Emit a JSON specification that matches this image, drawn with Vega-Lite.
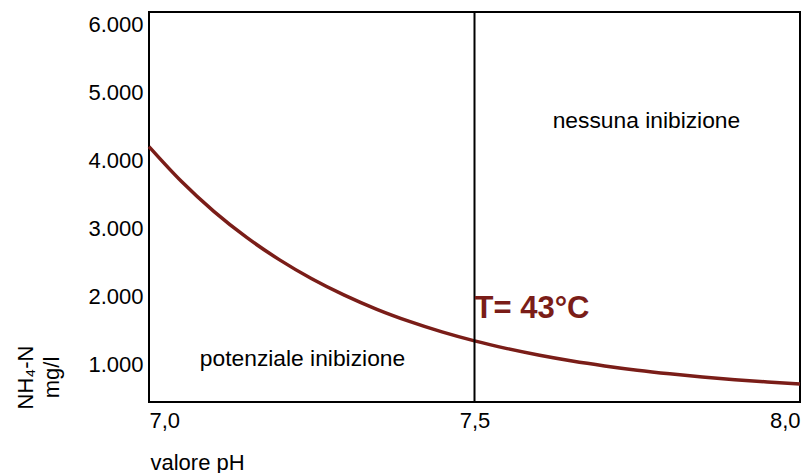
{
  "$schema": "https://vega.github.io/schema/vega-lite/v6.json",
  "width": 651,
  "height": 390,
  "autosize": "none",
  "padding": {"left": 149, "top": 12, "right": 1, "bottom": 71},
  "background": "white",
  "config": {
    "view": {"stroke": "black", "strokeWidth": 2},
    "font": "Liberation Sans",
    "axis": {"grid": false, "domain": false, "ticks": false, "labelFont": "Liberation Sans", "titleFont": "Liberation Sans", "labelColor": "black", "titleColor": "black", "labelFontSize": 22, "titleFontSize": 22, "titleFontWeight": "normal"}
  },
  "datasets": {
    "curve": [
      {"pH": 7.0, "NH4N": 4206},
      {"pH": 7.05, "NH4N": 3693},
      {"pH": 7.1, "NH4N": 3252},
      {"pH": 7.15, "NH4N": 2873},
      {"pH": 7.2, "NH4N": 2547},
      {"pH": 7.25, "NH4N": 2266},
      {"pH": 7.3, "NH4N": 2025},
      {"pH": 7.35, "NH4N": 1817},
      {"pH": 7.4, "NH4N": 1639},
      {"pH": 7.45, "NH4N": 1485},
      {"pH": 7.5, "NH4N": 1353},
      {"pH": 7.55, "NH4N": 1240},
      {"pH": 7.6, "NH4N": 1142},
      {"pH": 7.65, "NH4N": 1058},
      {"pH": 7.7, "NH4N": 986},
      {"pH": 7.75, "NH4N": 923},
      {"pH": 7.8, "NH4N": 870},
      {"pH": 7.85, "NH4N": 824},
      {"pH": 7.9, "NH4N": 784},
      {"pH": 7.95, "NH4N": 750},
      {"pH": 8.0, "NH4N": 721}
    ],
    "limit": [{"pH": 7.5}],
    "zones": [
      {"pH": 7.7641, "NH4N": 4481, "label": "nessuna inibizione"},
      {"pH": 7.2358, "NH4N": 985, "label": "potenziale inibizione"}
    ],
    "temp": [{"pH": 7.5, "NH4N": 1691, "label": "T= 43°C"}]
  },
  "layer": [
    {
      "data": {"name": "curve"},
      "mark": {"type": "line", "color": "#7a1d18", "strokeWidth": 3.5, "interpolate": "monotone"},
      "encoding": {
        "x": {
          "field": "pH", "type": "quantitative",
          "scale": {"domain": [7, 8], "nice": false, "zero": false},
          "axis": {
            "values": [7, 7.5, 8],
            "labelExpr": "replace(format(datum.value, '.1f'), '.', ',')",
            "labelAlign": {"expr": "datum.value == 8 ? 'right' : datum.value == 7 ? 'left' : 'center'"},
            "labelFlush": false,
            "labelDx": -3,
            "labelPadding": 8,
            "labelBaseline": "top",
            "title": "valore pH",
            "titleAnchor": "start",
            "titleAlign": "left",
            "titleX": 1,
            "titleY": 67,
            "titleBaseline": "alphabetic"
          }
        },
        "y": {
          "field": "NH4N", "type": "quantitative",
          "scale": {"domain": [456, 6184], "nice": false, "zero": false},
          "axis": {
            "values": [1000, 2000, 3000, 4000, 5000, 6000],
            "labelExpr": "replace(format(datum.value, ',d'), ',', '.')",
            "labelPadding": 6,
            "title": ["NH₄-N", "mg/l"],
            "titleAngle": -90,
            "titleAlign": "center",
            "titleBaseline": "alphabetic",
            "titleLineHeight": 26,
            "titleX": -117,
            "titleY": 365
          }
        }
      }
    },
    {
      "data": {"name": "limit"},
      "mark": {"type": "rule", "color": "black", "strokeWidth": 2},
      "encoding": {"x": {"field": "pH", "type": "quantitative"}}
    },
    {
      "data": {"name": "zones"},
      "mark": {"type": "text", "fontSize": 22.8, "font": "Liberation Sans", "color": "black", "align": "center", "baseline": "alphabetic"},
      "encoding": {
        "x": {"field": "pH", "type": "quantitative"},
        "y": {"field": "NH4N", "type": "quantitative"},
        "text": {"field": "label"}
      }
    },
    {
      "data": {"name": "temp"},
      "mark": {"type": "text", "fontSize": 31, "font": "Liberation Sans", "fontWeight": "bold", "color": "#7a1d18", "align": "left", "baseline": "alphabetic", "dx": 0},
      "encoding": {
        "x": {"field": "pH", "type": "quantitative"},
        "y": {"field": "NH4N", "type": "quantitative"},
        "text": {"field": "label"}
      }
    }
  ]
}
